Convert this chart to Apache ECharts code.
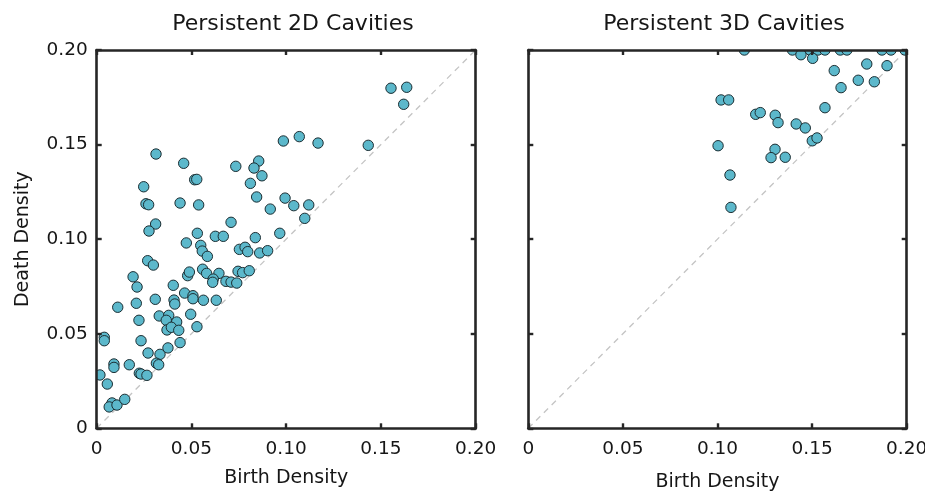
<!DOCTYPE html>
<html>
<head>
<meta charset="utf-8">
<title>Persistent Cavities</title>
<script src="https://cdn.jsdelivr.net/npm/echarts@6/dist/echarts.min.js"></script>
<style>
  html, body { margin: 0; padding: 0; background: #ffffff; }
  #chart { width: 925px; height: 491px; }
</style>
</head>
<body>
<div id="chart"></div>
<script>
// Persistence diagram values: birth and death density of each cavity
var birth2d = [
  0.0985, 0.1069, 0.1168, 0.1433, 0.1553, 0.1636, 0.1620, 0.0313, 0.0459, 0.0734,
  0.0855, 0.0830, 0.0872, 0.0248, 0.0517, 0.0528, 0.0811, 0.0260, 0.0274, 0.0440,
  0.0538, 0.0844, 0.0994, 0.0916, 0.1040, 0.1119, 0.1098, 0.0311, 0.0276, 0.0709,
  0.0531, 0.0626, 0.0668, 0.0837, 0.0966, 0.0473, 0.0549, 0.0557, 0.0584, 0.0753,
  0.0783, 0.0797, 0.0860, 0.0902, 0.0269, 0.0299, 0.0192, 0.0213, 0.0404, 0.0480,
  0.0489, 0.0559, 0.0580, 0.0645, 0.0615, 0.0612, 0.0682, 0.0709, 0.0739, 0.0746,
  0.0770, 0.0805, 0.0464, 0.0508, 0.0508, 0.0563, 0.0631, 0.0309, 0.0408, 0.0412,
  0.0111, 0.0209, 0.0223, 0.0330, 0.0380, 0.0367, 0.0422, 0.0371, 0.0394, 0.0433,
  0.0496, 0.0529, 0.0040, 0.0040, 0.0234, 0.0440, 0.0271, 0.0334, 0.0376, 0.0091,
  0.0091, 0.0172, 0.0315, 0.0327, 0.0225, 0.0234, 0.0265, 0.0017, 0.0056, 0.0081,
  0.0066, 0.0107, 0.0148
];
var death2d = [
  0.1519, 0.1542, 0.1508, 0.1496, 0.1798, 0.1803, 0.1713, 0.1450, 0.1401, 0.1385,
  0.1413, 0.1376, 0.1335, 0.1277, 0.1314, 0.1316, 0.1295, 0.1187, 0.1182, 0.1191,
  0.1181, 0.1223, 0.1217, 0.1159, 0.1177, 0.1181, 0.1110, 0.1080, 0.1043, 0.1089,
  0.1031, 0.1015, 0.1015, 0.1008, 0.1031, 0.0980, 0.0967, 0.0937, 0.0909, 0.0946,
  0.0957, 0.0934, 0.0927, 0.0939, 0.0886, 0.0863, 0.0801, 0.0747, 0.0756, 0.0807,
  0.0826, 0.0841, 0.0819, 0.0819, 0.0789, 0.0772, 0.0777, 0.0773, 0.0768, 0.0830,
  0.0823, 0.0833, 0.0715, 0.0701, 0.0685, 0.0677, 0.0677, 0.0682, 0.0678, 0.0657,
  0.0640, 0.0661, 0.0571, 0.0594, 0.0597, 0.0571, 0.0562, 0.0520, 0.0534, 0.0518,
  0.0603, 0.0537, 0.0481, 0.0463, 0.0463, 0.0453, 0.0398, 0.0391, 0.0425, 0.0340,
  0.0322, 0.0336, 0.0344, 0.0336, 0.0291, 0.0287, 0.0280, 0.0282, 0.0234, 0.0134,
  0.0113, 0.0123, 0.0153
];
var birth3d = [
  0.1142, 0.1396, 0.1489, 0.1531, 0.1568, 0.1649, 0.1684, 0.1869, 0.1917, 0.1991,
  0.1441, 0.1503, 0.1617, 0.1789, 0.1896, 0.1653, 0.1744, 0.1829, 0.1019, 0.1059,
  0.1202, 0.1226, 0.1305, 0.1320, 0.1416, 0.1464, 0.1568, 0.1501, 0.1526, 0.1003,
  0.1304, 0.1283, 0.1358, 0.1066, 0.1071
];
var death3d = [
  0.2000, 0.2000, 0.2000, 0.2000, 0.2000, 0.2000, 0.2000, 0.2000, 0.2000, 0.2000,
  0.1975, 0.1956, 0.1891, 0.1926, 0.1917, 0.1801, 0.1840, 0.1832, 0.1736, 0.1736,
  0.1660, 0.1669, 0.1655, 0.1616, 0.1609, 0.1588, 0.1695, 0.1520, 0.1535, 0.1494,
  0.1475, 0.1431, 0.1433, 0.1339, 0.1168
];
var axisTicks = [0, 0.05, 0.10, 0.15, 0.20];
var diagonal = [[0, 0], [0.20, 0.20]];
var titles = ['Persistent 2D Cavities', 'Persistent 3D Cavities'];
var xName = 'Birth Density';
var yName = 'Death Density';

var FONT = 'DejaVu Sans';
var INK = '#262626';
var TEXT = '#161616';
var FILL = '#5cb8cb';
var EDGE = '#1b2e33';

function pairs(xs, ys) {
  return xs.map(function (x, i) { return [x, ys[i]]; });
}

function tickLabel(v) {
  return v === 0 ? '0' : v.toFixed(2);
}

function makeAxis(kind, grid, position, showLabels, name, nameGap) {
  return {
    type: 'value',
    gridIndex: grid,
    position: position,
    min: axisTicks[0],
    max: axisTicks[axisTicks.length - 1],
    interval: axisTicks[1] - axisTicks[0],
    z: 10,
    name: name || '',
    nameLocation: 'middle',
    nameGap: nameGap || 0,
    nameTextStyle: { fontFamily: FONT, fontSize: 19, color: TEXT },
    axisLine: { show: true, onZero: false, lineStyle: { color: INK, width: 2.6 } },
    axisTick: { show: true, inside: true, length: 5, lineStyle: { color: INK, width: 2.4 } },
    axisLabel: {
      show: showLabels,
      margin: kind === 'x' ? 11 : 9,
      fontFamily: FONT,
      fontSize: 18.5,
      color: TEXT,
      formatter: tickLabel
    },
    splitLine: { show: false }
  };
}

function circles(params, api) {
  var p = api.coord([api.value(0), api.value(1)]);
  return {
    type: 'circle',
    shape: { cx: p[0], cy: p[1], r: 5.2 },
    style: { fill: FILL, stroke: EDGE, lineWidth: 1 }
  };
}

function pointSeries(idx, data) {
  return {
    type: 'custom',
    xAxisIndex: idx * 2,
    yAxisIndex: idx * 2,
    clip: true,
    z: 3,
    silent: true,
    encode: { x: 0, y: 1 },
    data: data,
    renderItem: circles
  };
}

function diagSeries(idx) {
  return {
    type: 'line',
    xAxisIndex: idx * 2,
    yAxisIndex: idx * 2,
    data: diagonal,
    symbol: 'none',
    silent: true,
    z: 1,
    lineStyle: { color: '#c4c4c4', width: 1.3, type: [6, 5] }
  };
}

var chart = echarts.init(document.getElementById('chart'), null, { renderer: 'canvas' });

chart.setOption({
  animation: false,
  backgroundColor: '#ffffff',
  title: [
    { text: titles[0], left: 288, top: 8, textAlign: 'center',
      textStyle: { fontFamily: FONT, fontSize: 22, fontWeight: 'normal', color: TEXT } },
    { text: titles[1], left: 719, top: 8, textAlign: 'center',
      textStyle: { fontFamily: FONT, fontSize: 22, fontWeight: 'normal', color: TEXT } }
  ],
  grid: [
    { left: 96.7, right: 449.3, top: 50, bottom: 62.7, outerBoundsMode: 'none' },
    { left: 528.3, right: 18.3, top: 50, bottom: 62.7, outerBoundsMode: 'none' }
  ],
  xAxis: [
    makeAxis('x', 0, 'bottom', true, xName, 40),
    makeAxis('x', 0, 'top', false),
    makeAxis('x', 1, 'bottom', true, xName, 44),
    makeAxis('x', 1, 'top', false)
  ],
  yAxis: [
    makeAxis('y', 0, 'left', true, yName, 64),
    makeAxis('y', 0, 'right', false),
    makeAxis('y', 1, 'left', false),
    makeAxis('y', 1, 'right', false)
  ],
  series: [
    diagSeries(0),
    diagSeries(1),
    pointSeries(0, pairs(birth2d, death2d)),
    pointSeries(1, pairs(birth3d, death3d))
  ]
});
</script>
</body>
</html>
